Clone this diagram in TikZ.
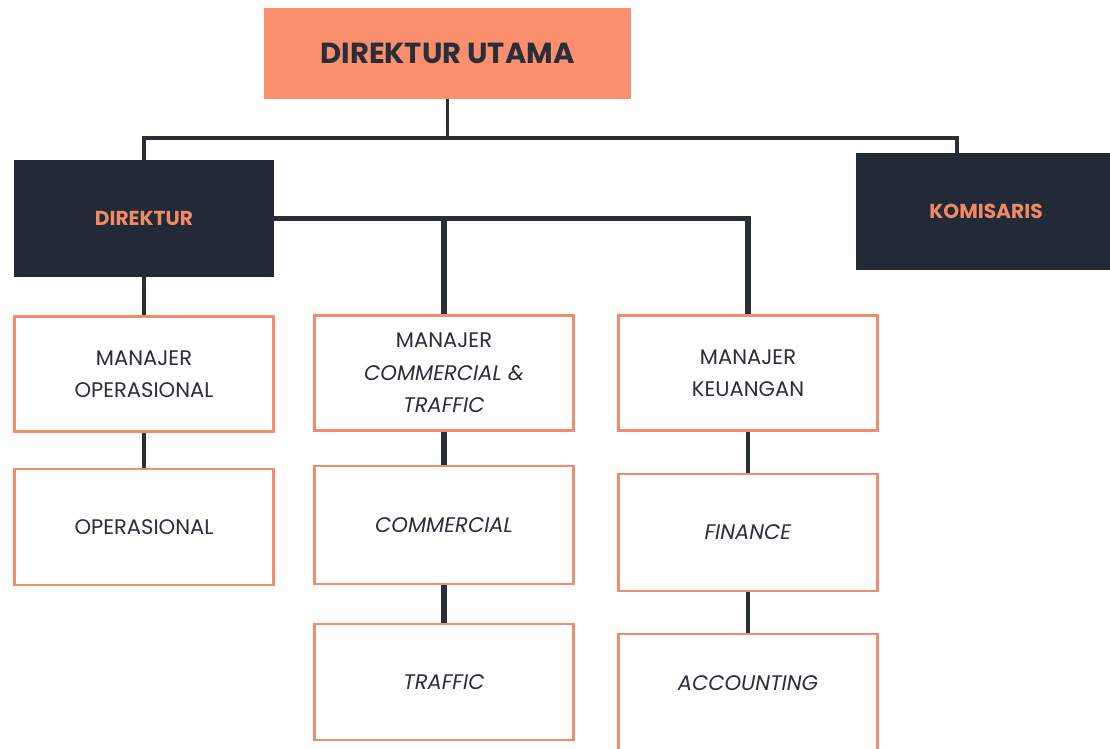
\documentclass[tikz,border=0pt]{standalone}
\usepackage{fontspec}
\setmainfont{Poppins}
\usepackage{xcolor}
\usepackage{tikz}
\usetikzlibrary{positioning, calc}
\definecolor{orgsalmon}{RGB}{250,143,110}
\definecolor{orgline}{RGB}{241,141,108}
\definecolor{orgnavy}{RGB}{34,42,56}
\definecolor{orgdark}{RGB}{42,46,56}
\definecolor{orgtext}{RGB}{240,138,100}

\tikzset{
  unitbox/.style={draw=orgline, line width=1.6pt, fill=white,
    minimum width=5.18cm, minimum height=2.3cm, align=center,
    text=orgdark, font=\fontsize{12}{18.5}\selectfont},
  headbox/.style={fill=orgnavy, minimum width=5.2cm, minimum height=2.34cm,
    text=orgtext, font=\fontsize{11.5}{14}\selectfont\bfseries},
  link/.style={draw=orgdark, line width=2.2pt},
  branch/.style={draw=orgdark, line width=3.2pt}
}

\begin{document}
\begin{tikzpicture}[x=0.02cm, y=-0.02cm]
\clip (0,0) rectangle (1110,748);
\fill[white] (0,0) rectangle (1110,748);

\coordinate (bus) at (445,138);

% top level
\node[fill=orgsalmon, minimum width=7.34cm, minimum height=1.82cm,
  text=orgdark, font=\fontsize{16.5}{20}\selectfont\bfseries]
  (utama) at (447.5,53.5) {DIREKTUR UTAMA};
\node[headbox] (direktur)  at (144,218.5) {DIREKTUR};
\node[headbox] (komisaris) at (986,211.5) {KOMISARIS};

% managers
\node[unitbox] (mops) at (144,374) {MANAJER\\OPERASIONAL};
\node[unitbox] (mkom) at (444,373) {MANAJER\\\textit{COMMERCIAL \&}\\\textit{TRAFFIC}};
\node[unitbox] (mkeu) at (748,373) {MANAJER\\KEUANGAN};

% units
\node[unitbox, minimum height=2.32cm] (ops)  at (144,527)   {OPERASIONAL};
\node[unitbox, minimum height=2.36cm] (kom)  at (444,525)   {\textit{COMMERCIAL}};
\node[unitbox, minimum height=2.32cm] (traf) at (444,682)   {\textit{TRAFFIC}};
\node[unitbox, minimum height=2.34cm] (fin)  at (748,532.5) {\textit{FINANCE}};
\node[unitbox, minimum height=2.36cm, text depth=0.4cm]
  (acc) at (748,693) {\textit{ACCOUNTING}};

% lines
\draw[link] (utama.south) -- (utama.south |- bus);
\draw[link] (direktur.north) |- (bus) -| ([xshift=-0.58cm]komisaris.north);
\draw[branch] (direktur.east) -| (mkeu.north);
\draw[branch] (mkom.north) -- (mkom.north |- direktur.east);
\draw[link] (direktur.south) -- (mops.north);
\draw[link] (mops.south) -- (ops.north);
\draw[branch] (mkom.south) -- (kom.north);
\draw[branch] (kom.south) -- (traf.north);
\draw[link] (mkeu.south) -- (fin.north);
\draw[link] (fin.south) -- (acc.north);
\end{tikzpicture}
\end{document}
